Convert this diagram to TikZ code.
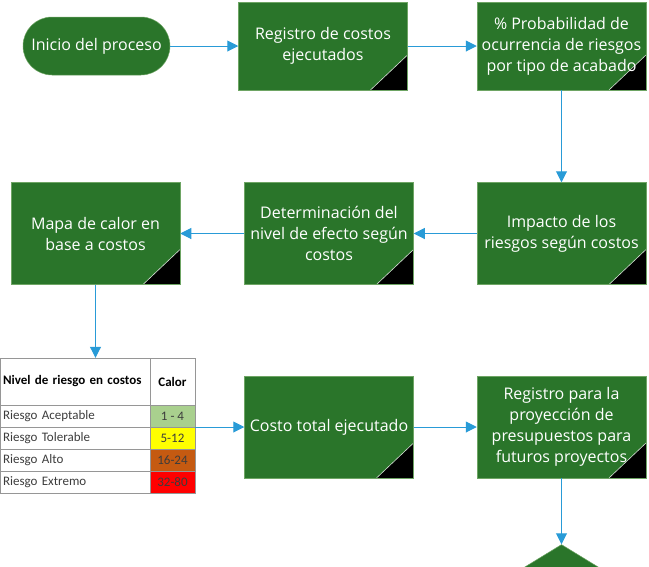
\documentclass[tikz,border=0pt]{standalone}
\usepackage{fontspec}
\setmainfont{Open Sans}
\newfontfamily\tablafont{Carlito}
\usepackage{xcolor}
\usepackage{tikz}
\usetikzlibrary{positioning,arrows.meta,shapes.geometric,fit}
\definecolor{flowgreen}{RGB}{42,117,42}
\definecolor{flowedge}{RGB}{110,165,100}
\definecolor{flowblue}{RGB}{41,155,215}
\definecolor{tablegray}{RGB}{150,150,150}
\definecolor{tabletext}{RGB}{60,60,60}
\definecolor{calorverde}{RGB}{169,208,142}
\definecolor{caloramarillo}{RGB}{255,255,0}
\definecolor{calornaranja}{RGB}{197,90,17}
\definecolor{calorrojo}{RGB}{255,0,0}
\tikzset{
    procstart/.style={draw=flowedge, line width=0.5pt, fill=flowgreen, text=white, rounded corners=29pt, minimum width=147pt, minimum height=58pt, inner sep=2pt, font=\fontsize{16}{21}\selectfont},
    procbox/.style={draw=flowedge, line width=0.5pt, fill=flowgreen, text=white, align=center, minimum width=169pt, minimum height=102pt, inner sep=2pt, font=\fontsize{16}{21}\selectfont, path picture={
        \fill[black] (path picture bounding box.south east) -- ++(-37pt,0pt) -- ++(37pt,35pt) -- cycle;
        \draw[white!80!flowgreen, line width=0.6pt] (path picture bounding box.south east) ++(-37pt,0pt) -- ++(37pt,35pt);
    }},
    procfin/.style={draw=flowedge, line width=0.5pt, fill=flowgreen, diamond, aspect=1.63, minimum width=170pt, minimum height=104pt, inner sep=0pt},
    flowarrow/.style={draw=flowblue, line width=1pt, -{Triangle[length=11pt,width=11pt]}},
    celdanivel/.style={draw=tablegray, line width=0.8pt, outer sep=0pt, text=tabletext, align=left, text width=144pt, inner xsep=3pt, inner ysep=0pt, minimum height=22pt, font=\tablafont\fontsize{13}{15}\selectfont},
    celdacalor/.style={draw=tablegray, line width=0.8pt, outer sep=0pt, text=tabletext, align=center, minimum width=45pt, inner sep=0pt, minimum height=22pt, font=\tablafont\fontsize{13}{15}\selectfont},
    celdahead/.style={minimum height=47pt, text=black, font=\tablafont\bfseries\fontsize{13}{15}\selectfont}
}
\begin{document}
\begin{tikzpicture}[x=1pt, y=-1pt]
    \useasboundingbox (0,0) rectangle (649,566);
    \node[procstart] (inicio) at (96.5,46) {Inicio del proceso};
    \node[procbox, minimum height=88pt, right=68pt of inicio] (registro) {Registro de costos\\ejecutados};
    \node[procbox, minimum height=88pt, right=69pt of registro] (probab) {\% Probabilidad de\\ocurrencia de riesgos\\por tipo de acabado};
    \node[procbox, below=92pt of probab] (impacto) {Impacto de los\\riesgos según costos};
    \node[procbox, left=63pt of impacto] (efecto) {Determinación del\\nivel de efecto según\\costos};
    \node[procbox, left=64pt of efecto] (mapa) {Mapa de calor en\\base a costos};
    \node[procbox, below=91pt of efecto] (costo) {Costo total ejecutado};
    \node[procbox, right=63pt of costo] (proyeccion) {Registro para la\\proyección de\\presupuestos para\\futuros proyectos};
    \node[procfin, below=66pt of proyeccion] (fin) {};

    % tabla de niveles de riesgo
    \node[celdanivel, celdahead, anchor=north west] (hnivel) at (0,358) {Nivel de riesgo en costos};
    \node[celdacalor, celdahead, right=0pt of hnivel] (hcalor) {Calor};
    \node[celdanivel, below=0pt of hnivel] (n1) {Riesgo Aceptable};
    \node[celdacalor, fill=calorverde, right=0pt of n1] (c1) {1 - 4};
    \node[celdanivel, below=0pt of n1] (n2) {Riesgo Tolerable};
    \node[celdacalor, fill=caloramarillo, right=0pt of n2] (c2) {5-12};
    \node[celdanivel, below=0pt of n2] (n3) {Riesgo Alto};
    \node[celdacalor, fill=calornaranja, right=0pt of n3] (c3) {16-24};
    \node[celdanivel, below=0pt of n3] (n4) {Riesgo Extremo};
    \node[celdacalor, fill=calorrojo, right=0pt of n4] (c4) {32-80};
    \node[fit=(hnivel)(c4), inner sep=0pt] (tabla) {};

    \draw[flowarrow] (inicio) -- (registro);
    \draw[flowarrow] (registro) -- (probab);
    \draw[flowarrow] (probab) -- (impacto);
    \draw[flowarrow] (impacto) -- (efecto);
    \draw[flowarrow] (efecto) -- (mapa);
    \draw[flowarrow] (mapa) -- (mapa.south |- tabla.north);
    \draw[flowarrow] (tabla.east |- costo) -- (costo);
    \draw[flowarrow] (costo) -- (proyeccion);
    \draw[flowarrow] (proyeccion) -- (fin);
\end{tikzpicture}
\end{document}
